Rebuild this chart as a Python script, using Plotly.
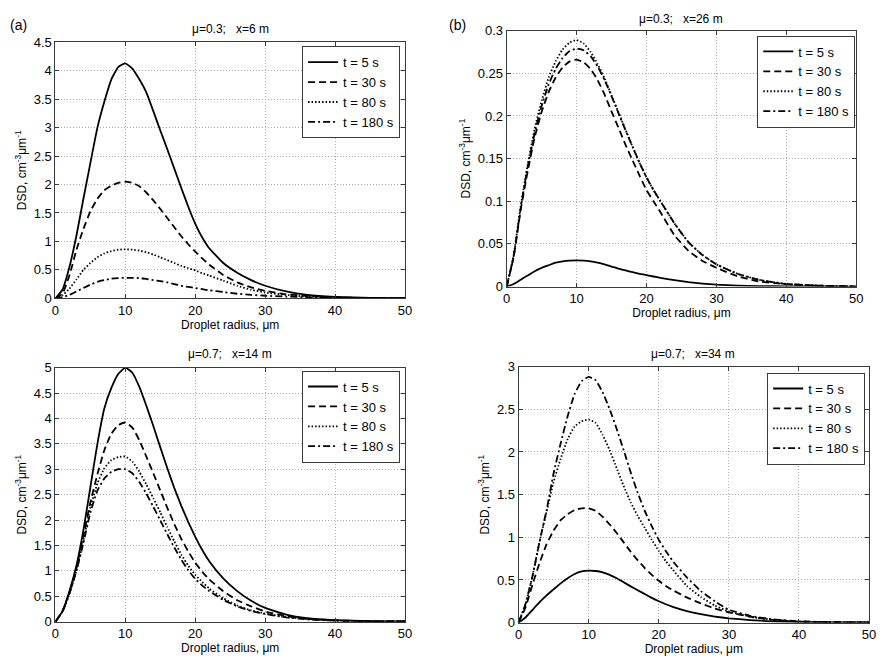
import plotly.graph_objects as go

# Droplet radius (um)
radius = [0, 1, 2, 3, 4, 5, 6, 7, 8, 9, 10, 11, 12, 13, 14, 15, 16, 17, 18, 19, 20, 21, 22,
          24, 26, 28, 30, 33, 36, 40, 45, 50]

series_labels = ["t = 5 s", "t = 30 s", "t = 80 s", "t = 180 s"]

# Panel (a): mu=0.3, x=6 m
a_t5 = [0, 0.15, 0.55, 1.1, 1.75, 2.38, 3.0, 3.46, 3.85, 4.07, 4.13, 4.04, 3.85, 3.62, 3.29, 2.95, 2.62, 2.28, 1.94, 1.61, 1.31, 1.07, 0.88, 0.62, 0.45, 0.32, 0.22, 0.12, 0.06, 0.025, 0.008, 0.002]
a_t30 = [0, 0.08, 0.4, 0.85, 1.22, 1.53, 1.75, 1.9, 1.98, 2.03, 2.05, 2.03, 1.97, 1.86, 1.72, 1.57, 1.41, 1.25, 1.09, 0.95, 0.82, 0.7, 0.59, 0.41, 0.28, 0.19, 0.13, 0.07, 0.04, 0.015, 0.005, 0.001]
a_t80 = [0, 0.05, 0.17, 0.33, 0.5, 0.62, 0.72, 0.79, 0.83, 0.855, 0.86, 0.855, 0.84, 0.81, 0.77, 0.72, 0.67, 0.62, 0.57, 0.53, 0.49, 0.44, 0.4, 0.31, 0.22, 0.15, 0.1, 0.06, 0.03, 0.012, 0.004, 0.001]
a_t180 = [0, 0.02, 0.06, 0.12, 0.18, 0.24, 0.29, 0.32, 0.345, 0.355, 0.36, 0.36, 0.355, 0.34, 0.32, 0.3, 0.28, 0.25, 0.22, 0.2, 0.18, 0.16, 0.14, 0.11, 0.08, 0.06, 0.045, 0.03, 0.018, 0.008, 0.003, 0.001]

# Panel (b): mu=0.3, x=26 m
b_t5 = [0, 0.003, 0.008, 0.013, 0.018, 0.022, 0.025, 0.028, 0.0295, 0.0303, 0.0306, 0.0303, 0.0295, 0.028, 0.026, 0.0235, 0.021, 0.019, 0.0168, 0.015, 0.0134, 0.0118, 0.0102, 0.0075, 0.0052, 0.0035, 0.0022, 0.0012, 0.0006, 0.0002, 0.0001, 0]
b_t30 = [0, 0.035, 0.09, 0.135, 0.175, 0.205, 0.228, 0.245, 0.257, 0.264, 0.266, 0.263, 0.255, 0.242, 0.225, 0.205, 0.186, 0.166, 0.148, 0.13, 0.113, 0.1, 0.087, 0.06, 0.042, 0.03, 0.022, 0.012, 0.006, 0.003, 0.001, 0]
b_t80 = [0, 0.037, 0.094, 0.143, 0.185, 0.218, 0.245, 0.264, 0.278, 0.286, 0.289, 0.285, 0.275, 0.261, 0.244, 0.224, 0.204, 0.184, 0.164, 0.145, 0.128, 0.113, 0.1, 0.074, 0.052, 0.037, 0.026, 0.015, 0.008, 0.003, 0.001, 0]
b_t180 = [0, 0.036, 0.092, 0.14, 0.18, 0.212, 0.237, 0.255, 0.268, 0.276, 0.279, 0.277, 0.27, 0.258, 0.242, 0.223, 0.203, 0.183, 0.164, 0.145, 0.128, 0.113, 0.1, 0.074, 0.052, 0.037, 0.026, 0.015, 0.008, 0.003, 0.001, 0]

# Panel (c): mu=0.7, x=14 m
c_t5 = [0, 0.2, 0.6, 1.1, 1.8, 2.65, 3.5, 4.2, 4.6, 4.88, 5.0, 4.9, 4.62, 4.25, 3.85, 3.43, 3.02, 2.63, 2.28, 1.96, 1.67, 1.41, 1.19, 0.85, 0.6, 0.41, 0.27, 0.14, 0.07, 0.03, 0.01, 0.005]
c_t30 = [0, 0.2, 0.58, 1.05, 1.7, 2.35, 2.9, 3.38, 3.7, 3.87, 3.92, 3.82, 3.57, 3.25, 2.92, 2.58, 2.24, 1.92, 1.63, 1.38, 1.16, 0.98, 0.83, 0.6, 0.42, 0.3, 0.2, 0.11, 0.055, 0.025, 0.008, 0.003]
c_t80 = [0, 0.2, 0.55, 1.0, 1.6, 2.25, 2.72, 3.02, 3.18, 3.24, 3.25, 3.15, 2.95, 2.7, 2.43, 2.15, 1.86, 1.58, 1.32, 1.1, 0.92, 0.78, 0.65, 0.46, 0.32, 0.22, 0.16, 0.09, 0.05, 0.02, 0.007, 0.002]
c_t180 = [0, 0.2, 0.55, 1.0, 1.55, 2.15, 2.58, 2.82, 2.95, 3.0, 3.0, 2.92, 2.75, 2.52, 2.26, 1.99, 1.72, 1.46, 1.22, 1.01, 0.84, 0.71, 0.6, 0.43, 0.3, 0.21, 0.15, 0.085, 0.045, 0.018, 0.006, 0.002]

# Panel (d): mu=0.7, x=34 m
d_t5 = [0, 0.06, 0.15, 0.24, 0.32, 0.39, 0.46, 0.52, 0.57, 0.6, 0.61, 0.605, 0.59, 0.56, 0.52, 0.472, 0.425, 0.38, 0.335, 0.29, 0.25, 0.215, 0.185, 0.135, 0.098, 0.07, 0.05, 0.03, 0.015, 0.006, 0.002, 0.001]
d_t30 = [0, 0.18, 0.45, 0.7, 0.92, 1.08, 1.2, 1.27, 1.32, 1.34, 1.34, 1.31, 1.24, 1.15, 1.05, 0.94, 0.83, 0.73, 0.64, 0.56, 0.49, 0.43, 0.38, 0.295, 0.225, 0.165, 0.12, 0.07, 0.035, 0.012, 0.004, 0.001]
d_t80 = [0, 0.22, 0.55, 0.95, 1.3, 1.65, 1.92, 2.15, 2.3, 2.36, 2.38, 2.34, 2.2, 2.02, 1.81, 1.6, 1.41, 1.25, 1.11, 0.97, 0.84, 0.72, 0.62, 0.43, 0.3, 0.2, 0.13, 0.07, 0.035, 0.013, 0.004, 0.001]
d_t180 = [0, 0.22, 0.55, 0.95, 1.32, 1.75, 2.1, 2.42, 2.68, 2.83, 2.88, 2.84, 2.7, 2.5, 2.27, 2.02, 1.76, 1.52, 1.31, 1.13, 0.97, 0.84, 0.72, 0.53, 0.37, 0.25, 0.15, 0.08, 0.04, 0.015, 0.005, 0.002]

panel_titles = ["μ=0.3;   x=6 m", "μ=0.3;   x=26 m", "μ=0.7;   x=14 m", "μ=0.7;   x=34 m"]
panel_letters = ["(a)", "(b)"]
y_ranges = [[0, 4.5], [0, 0.3], [0, 5], [0, 3]]
y_dticks = [0.5, 0.05, 0.5, 0.5]

panels = [
    [a_t5, a_t30, a_t80, a_t180],
    [b_t5, b_t30, b_t80, b_t180],
    [c_t5, c_t30, c_t80, c_t180],
    [d_t5, d_t30, d_t80, d_t180],
]

# The page body has an 8px margin; size the figure so the page is exactly 892x664.
OFF = 8
W, H = 892 - 2 * OFF, 664 - 2 * OFF
# plot boxes in reference pixels: (left, right, top, bottom)
boxes = [(52, 406, 36, 298), (509, 863, 24, 286), (52, 406, 369, 629), (521, 876, 368, 630)]
legend_pos = [(401, 40), (862, 29), (401, 372), (872, 374)]
title_pos = [(229, 22), (686, 12), (229, 355), (698, 355)]
letter_pos = [(4, 18), (449, 18)]

def px(x):
    return (x - OFF) / W

def py(y):
    return 1 - (y - OFF) / H

dashes = ["solid", "7px,4px", "1.5px,2px", "7px,3px,2px,3px"]
FONT = "Liberation Sans, Arial, sans-serif"

fig = go.Figure()
for i, curves in enumerate(panels):
    sfx = "" if i == 0 else str(i + 1)
    for j, vals in enumerate(curves):
        fig.add_trace(go.Scatter(
            x=radius, y=vals, mode="lines", name=series_labels[j],
            line=dict(color="black", width=1.8, dash=dashes[j], shape="spline", smoothing=0.4),
            xaxis="x" + sfx, yaxis="y" + sfx, legend="legend" + sfx,
        ))

layout = dict(
    width=W, height=H, margin=dict(l=0, r=0, t=0, b=0),
    paper_bgcolor="white", plot_bgcolor="white",
    font=dict(family=FONT, size=12, color="black"),
    annotations=[],
)
for i in range(4):
    sfx = "" if i == 0 else str(i + 1)
    l, r, t, b = boxes[i]
    common = dict(
        showline=True, linecolor="#3a3a3a", linewidth=1, mirror="ticks",
        ticks="inside", ticklen=4, tickcolor="#3a3a3a",
        showgrid=True, gridcolor="#aaaaaa", griddash="1px,2px", gridwidth=1,
        zeroline=False, tickfont=dict(size=13, family=FONT),
    )
    layout["xaxis" + sfx] = dict(
        common, domain=[px(l), px(r)], range=[0, 50], dtick=10,
        anchor="y" + sfx,
        title=dict(text="Droplet radius, μm", font=dict(size=12, family=FONT), standoff=2),
    )
    layout["yaxis" + sfx] = dict(
        common, domain=[py(b), py(t)], range=y_ranges[i], dtick=y_dticks[i],
        anchor="x" + sfx,
        title=dict(text="DSD, cm<sup>-3</sup>μm<sup>-1</sup>", font=dict(size=12, family=FONT), standoff=4),
    )
    lx, ly = legend_pos[i]
    layout["legend" + sfx] = dict(
        x=px(lx), y=py(ly), xanchor="right", yanchor="top",
        xref="paper", yref="paper",
        bgcolor="white", bordercolor="#3a3a3a", borderwidth=1,
        font=dict(size=13, family=FONT), itemwidth=30, tracegroupgap=0,
    )
    tx, ty = title_pos[i]
    layout["annotations"].append(dict(
        x=px(tx), y=py(ty), xref="paper", yref="paper", text=panel_titles[i],
        showarrow=False, xanchor="center", yanchor="middle",
        font=dict(size=12, family=FONT),
    ))

for k in range(2):
    lx, ly = letter_pos[k]
    layout["annotations"].append(dict(
        x=px(lx), y=py(ly), xref="paper", yref="paper", text=panel_letters[k],
        showarrow=False, xanchor="left", yanchor="middle",
        font=dict(size=14, family=FONT)))

fig.update_layout(**layout)
fig.write_html("out.html")
